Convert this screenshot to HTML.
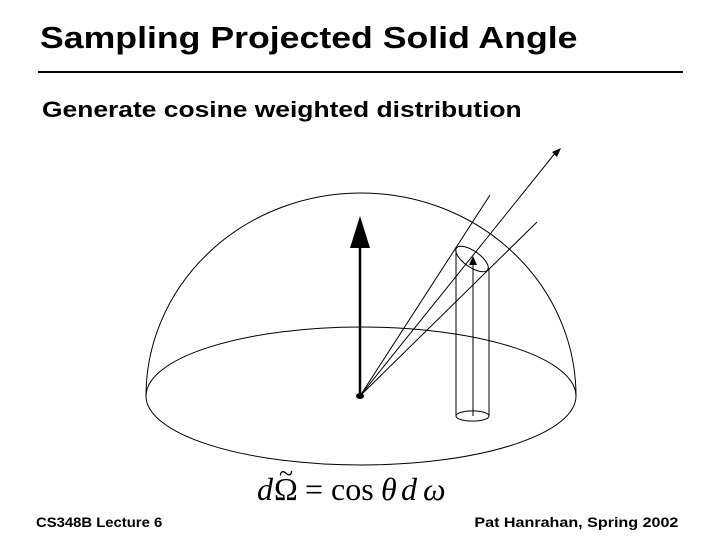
<!DOCTYPE html>
<html><head><style>
body{margin:0;width:720px;height:540px;background:#fff;overflow:hidden;position:relative;font-family:"Liberation Sans",sans-serif}
.t{position:absolute;font-weight:bold;color:#000;white-space:nowrap}
</style></head><body>
<div class="t" style="left:40px;top:20px;font-size:31px;transform:scaleX(1.15);transform-origin:0 0">Sampling Projected Solid Angle</div>
<div style="position:absolute;left:38px;top:71px;width:645px;height:2px;background:#000"></div>
<div class="t" style="left:42px;top:97px;font-size:22px;transform:scaleX(1.2);transform-origin:0 0">Generate cosine weighted distribution</div>
<svg width="720" height="540" style="position:absolute;left:0;top:0">
<g fill="none" stroke="#000" stroke-width="1">
<ellipse cx="361" cy="396" rx="215" ry="69"/>
<path d="M146 396 A215 203 0 0 1 576 396"/>
<line x1="360" y1="396" x2="490" y2="195"/>
<line x1="360" y1="396" x2="537" y2="222"/>
<line x1="360" y1="396" x2="556" y2="152"/>
<ellipse cx="472" cy="259" rx="19" ry="8" transform="rotate(35 472 259)"/>
<line x1="456" y1="250" x2="456" y2="416"/>
<line x1="489" y1="268" x2="489" y2="416"/>
<path d="M456 416 A16 5 0 0 0 489 416 A16 5 0 0 0 456 416"/>
<line x1="473" y1="416" x2="473" y2="264"/>
<line x1="360" y1="396" x2="360" y2="240" stroke-width="2.5"/>
</g>
<polygon points="360,216 350,248 370,248" fill="#000"/>
<polygon points="561,148 552,152 557,157" fill="#000"/>
<polygon points="473,256 469,265 477,265" fill="#000"/>
<ellipse cx="360" cy="396" rx="4" ry="3" fill="#000"/>
<g font-family="Liberation Serif, serif" font-size="32" fill="#000">
<text x="257" y="500" font-style="italic">d</text>
<text x="274" y="500">Ω</text>
<text x="279" y="482" font-size="26">~</text>
<text x="305" y="500">= cos</text>
<text x="381" y="500" font-style="italic">θ</text>
<text x="401" y="500" font-style="italic">d</text>
<text x="423" y="500" font-style="italic">ω</text>
</g>
</svg>
<div class="t" style="left:36px;top:514px;font-size:14px;transform:scaleX(1.06);transform-origin:0 0">CS348B Lecture 6</div>
<div class="t" style="right:42px;top:514px;font-size:14px;transform:scaleX(1.15);transform-origin:100% 0">Pat Hanrahan, Spring 2002</div>
</body></html>
